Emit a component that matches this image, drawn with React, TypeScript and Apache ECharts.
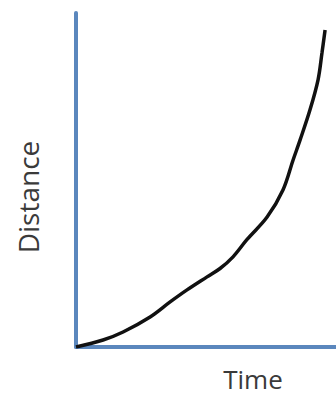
import React, { useEffect, useRef } from "react";
import * as echarts from "echarts";

const timeValues = [0, 1.04, 1.81, 2.85, 3.62, 4.27, 5.04, 5.54, 6.04, 6.58, 7.35, 7.96, 8.35, 8.62, 9.0, 9.31, 9.46, 9.58];
const distanceValues = [0, 0.21, 0.45, 0.9, 1.35, 1.71, 2.1, 2.35, 2.7, 3.22, 3.89, 4.7, 5.6, 6.2, 7.1, 8.0, 8.8, 9.49];
const xLabel = "Time";
const yLabel = "Distance";

export default function App() {
  const ref = useRef<HTMLDivElement>(null);
  useEffect(() => {
    if (!ref.current) return;
    const chart = echarts.init(ref.current, undefined, { renderer: "svg" });
    const axisColor = "#5b87bd";
    chart.setOption({
      animation: false,
      backgroundColor: "#ffffff",
      grid: { left: 76, right: 0, top: 13, bottom: 46 },
      xAxis: {
        type: "value",
        min: 0,
        max: 10,
        axisLine: { show: true, onZero: false, lineStyle: { color: axisColor, width: 4 } },
        axisTick: { show: false },
        axisLabel: { show: false },
        splitLine: { show: false },
      },
      yAxis: {
        type: "value",
        min: 0,
        max: 10,
        axisLine: { show: true, onZero: false, lineStyle: { color: axisColor, width: 4 } },
        axisTick: { show: false },
        axisLabel: { show: false },
        splitLine: { show: false },
      },
      graphic: [
        {
          type: "text",
          x: 28,
          y: 197,
          rotation: Math.PI / 2,
          style: {
            text: yLabel,
            font: "28px 'Open Sans'",
            fill: "#3a3a3a",
            align: "center",
            verticalAlign: "middle",
          },
        },
        {
          type: "text",
          x: 253,
          y: 379,
          style: {
            text: xLabel,
            font: "26px 'Open Sans'",
            fill: "#3a3a3a",
            align: "center",
            verticalAlign: "middle",
          },
        },
      ],
      series: [
        {
          type: "line",
          data: timeValues.map((t, i) => [t, distanceValues[i]]),
          smooth: 0.35,
          symbol: "none",
          lineStyle: { color: "#111111", width: 3.5 },
          z: 5,
        },
      ],
    });
    return () => chart.dispose();
  }, []);
  return <div ref={ref} style={{ width: 336, height: 393, position: "absolute", left: 0, top: 0 }} />;
}
